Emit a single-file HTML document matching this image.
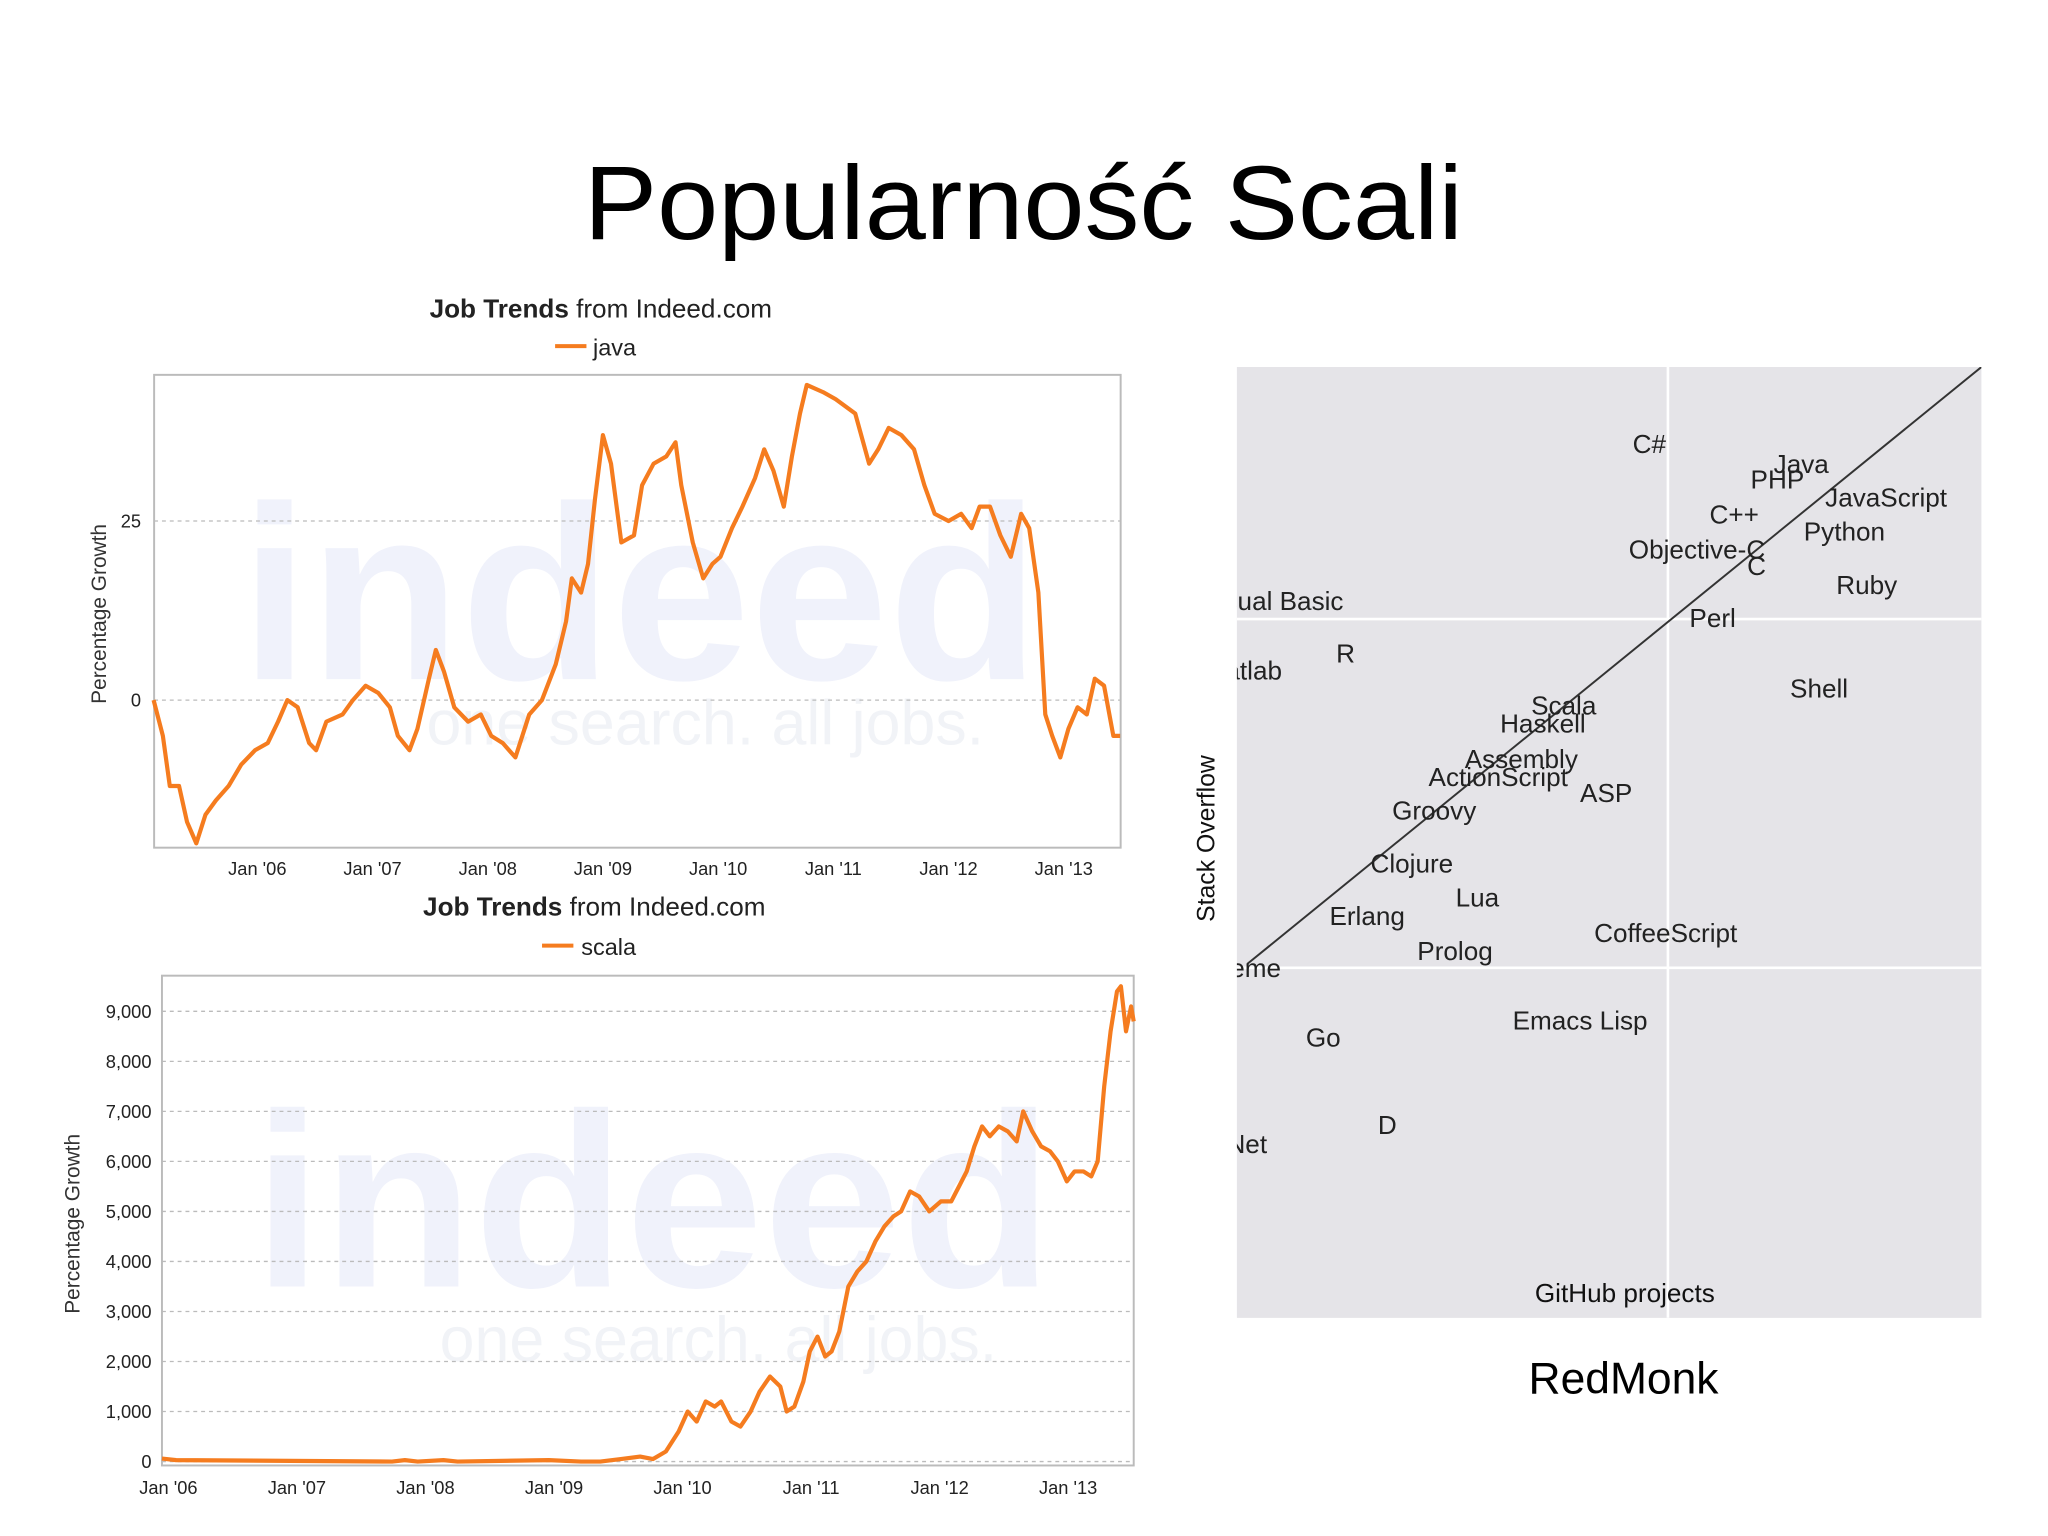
<!DOCTYPE html>
<html><head><meta charset="utf-8"><style>
html,body{margin:0;padding:0;background:#fff;}
svg{display:block;font-family:"Liberation Sans",sans-serif;}
</style></head><body>
<svg id="root" width="2048" height="1536" viewBox="0 0 1568 1176" xmlns="http://www.w3.org/2000/svg">
<rect width="1568" height="1176" fill="#fff"/>
<text x="447" y="183" font-size="80" textLength="673" lengthAdjust="spacingAndGlyphs" fill="#000" font-family="'Liberation Sans',sans-serif">Popularność Scali</text>

<!-- Chart 1 -->
<g>
<text x="460" y="243" font-size="20" text-anchor="middle" fill="#222"><tspan font-weight="bold">Job Trends</tspan> from Indeed.com</text>
<line x1="425" y1="265" x2="449" y2="265" stroke="#f57c1f" stroke-width="3"/>
<text x="454" y="272" font-size="18" fill="#222">java</text>
<rect x="118" y="287" width="740" height="362" fill="#fff" stroke="#bbb" stroke-width="1.5"/>
<text x="490" y="520" font-size="190" font-weight="bold" text-anchor="middle" fill="#f0f2fb">indeed</text>
<text x="540" y="570" font-size="48" text-anchor="middle" fill="#f1f3f7">one search. all jobs.</text>
<text x="81" y="470" font-size="16" fill="#333" text-anchor="middle" transform="rotate(-90 81 470)">Percentage Growth</text>
<g id="c1grid"></g><g id="c1ticks"></g><g id="c1line"></g>
</g>

<!-- Chart 2 -->
<g>
<text x="455" y="701" font-size="20" text-anchor="middle" fill="#222"><tspan font-weight="bold">Job Trends</tspan> from Indeed.com</text>
<line x1="415" y1="724" x2="439" y2="724" stroke="#f57c1f" stroke-width="3"/>
<text x="445" y="731" font-size="18" fill="#222">scala</text>
<rect x="124" y="747" width="744" height="375" fill="#fff" stroke="#bbb" stroke-width="1.5"/>
<text x="500" y="985" font-size="190" font-weight="bold" text-anchor="middle" fill="#f0f2fb">indeed</text>
<text x="550" y="1042" font-size="48" text-anchor="middle" fill="#f1f3f7">one search. all jobs.</text>
<text x="61" y="937" font-size="16" fill="#333" text-anchor="middle" transform="rotate(-90 61 937)">Percentage Growth</text>
<g id="c2grid"></g><g id="c2ticks"></g><g id="c2line"></g>
</g>

<!-- RedMonk scatter -->
<g>
<defs><clipPath id="rmclip"><rect x="947" y="281" width="570" height="728"/></clipPath></defs>
<rect x="947" y="281" width="570" height="728" fill="#e5e4e8"/>
<g clip-path="url(#rmclip)">
<line x1="1277" y1="281" x2="1277" y2="1009" stroke="#fff" stroke-width="2"/>
<line x1="947" y1="474" x2="1517" y2="474" stroke="#fff" stroke-width="2"/>
<line x1="947" y1="741" x2="1517" y2="741" stroke="#fff" stroke-width="2"/>
<line x1="955" y1="738" x2="1517" y2="281" stroke="#333" stroke-width="1.5"/>
<g id="rmlabels"></g>
</g>
<text x="930" y="642" font-size="19" fill="#111" text-anchor="middle" transform="rotate(-90 930 642)">Stack Overflow</text>
<text x="1244" y="997" font-size="20" fill="#111" text-anchor="middle">GitHub projects</text>
<text x="1243" y="1067" font-size="34" fill="#000" text-anchor="middle">RedMonk</text>
</g>

<script>
var NS="http://www.w3.org/2000/svg";
// Java chart data
var javaDates=[2005.10,2005.18,2005.24,2005.32,2005.39,2005.47,2005.55,2005.64,2005.75,2005.86,2005.98,2006.09,2006.18,2006.26,2006.35,2006.45,2006.51,2006.60,2006.74,2006.83,2006.94,2007.05,2007.15,2007.22,2007.32,2007.39,2007.49,2007.55,2007.62,2007.71,2007.83,2007.94,2008.03,2008.13,2008.24,2008.36,2008.47,2008.59,2008.68,2008.73,2008.81,2008.87,2008.93,2009.00,2009.07,2009.16,2009.27,2009.34,2009.44,2009.55,2009.63,2009.68,2009.78,2009.87,2009.95,2010.02,2010.12,2010.21,2010.32,2010.40,2010.48,2010.57,2010.64,2010.71,2010.77,2010.91,2011.02,2011.19,2011.31,2011.39,2011.48,2011.59,2011.70,2011.79,2011.88,2012.00,2012.11,2012.20,2012.27,2012.36,2012.45,2012.54,2012.63,2012.70,2012.78,2012.84,2012.90,2012.97,2013.04,2013.12,2013.20,2013.27,2013.35,2013.43,2013.49];
var javaValues=[0,-5,-12,-12,-17,-20,-16,-14,-12,-9,-7,-6,-3,0,-1,-6,-7,-3,-2,0,2,1,-1,-5,-7,-4,3,7,4,-1,-3,-2,-5,-6,-8,-2,0,5,11,17,15,19,28,37,33,22,23,30,33,34,36,30,22,17,19,20,24,27,31,35,32,27,34,40,44,43,42,40,33,35,38,37,35,30,26,25,26,24,27,27,23,20,26,24,15,-2,-5,-8,-4,-1,-2,3,2,-5,-5];
var javaTickYears=[2006,2007,2008,2009,2010,2011,2012,2013];
var javaTickLabels=["Jan '06","Jan '07","Jan '08","Jan '09","Jan '10","Jan '11","Jan '12","Jan '13"];
var javaYTicks=[0,25];
// Scala chart data
var scalaDates=[2005.95,2006.06,2007.74,2007.84,2007.94,2008.14,2008.25,2008.96,2009.21,2009.36,2009.52,2009.67,2009.77,2009.87,2009.97,2010.04,2010.11,2010.18,2010.25,2010.30,2010.38,2010.45,2010.53,2010.60,2010.68,2010.76,2010.81,2010.87,2010.94,2010.99,2011.05,2011.11,2011.16,2011.22,2011.29,2011.36,2011.43,2011.50,2011.57,2011.64,2011.70,2011.77,2011.84,2011.92,2012.01,2012.09,2012.15,2012.21,2012.27,2012.33,2012.39,2012.46,2012.53,2012.60,2012.65,2012.72,2012.79,2012.86,2012.92,2012.99,2013.05,2013.12,2013.18,2013.23,2013.28,2013.33,2013.38,2013.41,2013.45,2013.49,2013.51];
var scalaValues=[60,30,0,30,0,30,0,30,0,0,50,100,50,200,600,1000,800,1200,1100,1200,800,700,1000,1400,1700,1500,1000,1100,1600,2200,2500,2100,2200,2600,3500,3800,4000,4400,4700,4900,5000,5400,5300,5000,5200,5200,5500,5800,6300,6700,6500,6700,6600,6400,7000,6600,6300,6200,6000,5600,5800,5800,5700,6000,7500,8600,9400,9500,8600,9100,8800];
var scalaTickYears=[2006,2007,2008,2009,2010,2011,2012,2013];
var scalaTickLabels=["Jan '06","Jan '07","Jan '08","Jan '09","Jan '10","Jan '11","Jan '12","Jan '13"];
var scalaYTicks=[0,1000,2000,3000,4000,5000,6000,7000,8000,9000];
var scalaYLabels=["0","1,000","2,000","3,000","4,000","5,000","6,000","7,000","8,000","9,000"];
// RedMonk labels (github rank %, stackoverflow rank %)
var rmNames=["C#","Java","PHP","JavaScript","C++","Python","Objective-C","C","Ruby","Visual Basic","Perl","R","Matlab","Shell","Scala","Haskell","Assembly","ActionScript","ASP","Groovy","Clojure","Lua","Erlang","CoffeeScript","Prolog","Scheme","Emacs Lisp","Go","D","VB.Net"];
var rmGithub=[55.4,75.8,72.6,87.2,66.8,81.6,61.8,69.8,84.6,4.8,63.9,14.6,0.8,78.2,43.9,41.1,38.2,35.1,49.6,26.5,23.5,32.3,17.5,57.6,29.3,-0.5,46.1,11.6,20.2,-1.5];
var rmStack=[91.9,89.8,88.2,86.3,84.5,82.7,80.8,79.1,77.1,75.4,73.6,69.9,68.1,66.2,64.4,62.5,58.8,56.9,55.2,53.4,47.8,44.2,42.3,40.5,38.6,36.8,31.3,29.5,20.3,18.3];

function el(tag,attrs,parent,text){var e=document.createElementNS(NS,tag);for(var k in attrs)e.setAttribute(k,attrs[k]);if(text!==undefined)e.textContent=text;parent.appendChild(e);return e;}

var c1={x0:118,x1:858,d0:2005.104,d1:2013.494,y0:649,y1:287,v0:-20.6,v1:45.4};
function c1x(d){return c1.x0+(d-c1.d0)/(c1.d1-c1.d0)*(c1.x1-c1.x0);}
function c1y(v){return c1.y0+(v-c1.v0)/(c1.v1-c1.v0)*(c1.y1-c1.y0);}
var g1=document.getElementById('c1grid'),t1=document.getElementById('c1ticks'),l1=document.getElementById('c1line');
javaYTicks.forEach(function(v){
 var ln=el('line',{x1:118,x2:858,y1:c1y(v),y2:c1y(v),stroke:'#bbb','stroke-dasharray':'3,3'},g1);
 
 
 var tx=el('text',{x:108,y:c1y(v)+5,'font-size':14,'text-anchor':'end',fill:'#222'},t1,String(v));
 
 
});
javaTickYears.forEach(function(d,i){
 var tx=el('text',{x:c1x(d),y:670,'font-size':14,'text-anchor':'middle',fill:'#222'},t1,javaTickLabels[i]);
 
 
});
var p1=javaDates.map(function(d,i){return (i?'L':'M')+c1x(d).toFixed(1)+','+c1y(javaValues[i]).toFixed(1);}).join('');
var path1=el('path',{d:p1,fill:'none',stroke:'#f57c1f','stroke-width':3.2,'stroke-linejoin':'round'},l1);



var c2={x0:124,x1:868,d0:2005.95,d1:2013.51,y0:1119,v0:0,pxPer:0.0383};
function c2x(d){return c2.x0+(d-c2.d0)/(c2.d1-c2.d0)*(c2.x1-c2.x0);}
function c2y(v){return c2.y0-(v-c2.v0)*c2.pxPer;}
var g2=document.getElementById('c2grid'),t2=document.getElementById('c2ticks'),l2=document.getElementById('c2line');
scalaYTicks.forEach(function(v,i){
 var ln=el('line',{x1:124,x2:868,y1:c2y(v),y2:c2y(v),stroke:'#bbb','stroke-dasharray':'3,3'},g2);
 
 
 var tx=el('text',{x:116,y:c2y(v)+5,'font-size':14,'text-anchor':'end',fill:'#222'},t2,scalaYLabels[i]);
 
 
});
scalaTickYears.forEach(function(d,i){
 var tx=el('text',{x:c2x(d),y:1144,'font-size':14,'text-anchor':'middle',fill:'#222'},t2,scalaTickLabels[i]);
 
 
});
var p2=scalaDates.map(function(d,i){return (i?'L':'M')+c2x(d).toFixed(1)+','+c2y(scalaValues[i]).toFixed(1);}).join('');
var path2=el('path',{d:p2,fill:'none',stroke:'#f57c1f','stroke-width':3.2,'stroke-linejoin':'round'},l2);



var rm=document.getElementById('rmlabels');
function rmx(g){return 947+g/100*570;}
function rmy(s){return 1009-s/100*728;}
rmNames.forEach(function(n,i){
 var tx=el('text',{x:rmx(rmGithub[i]),y:rmy(rmStack[i])+7,'font-size':20,'text-anchor':'middle',fill:'#222'},rm,n);
 
 
});
</script>
</svg>
</body></html>
